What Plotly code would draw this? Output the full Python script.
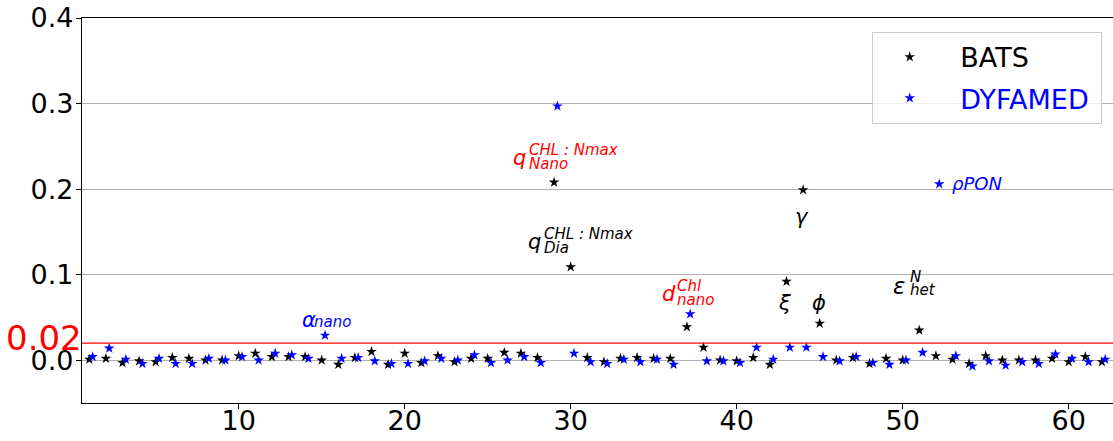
import plotly.graph_objects as go

# ---------------- data ----------------
param_index = list(range(1, 63))

bats_values = [
    0.001, 0.002, -0.003, -0.001, -0.002, 0.003, 0.002, 0.000, 0.000, 0.005,
    0.008, 0.004, 0.004, 0.004, 0.000, -0.005, 0.003, 0.010, -0.005, 0.008,
    -0.003, 0.005, -0.002, 0.002, 0.002, 0.009, 0.008, 0.003, 0.208, 0.109,
    0.003, -0.002, 0.002, 0.003, 0.002, 0.002, 0.039, 0.015, 0.000, -0.001,
    0.003, -0.005, 0.092, 0.199, 0.043, 0.000, 0.003, -0.004, 0.002, 0.000,
    0.035, 0.005, 0.001, -0.004, 0.005, 0.000, 0.000, 0.000, 0.002, -0.002,
    0.004, -0.002,
]

dyfamed_values = [
    0.004, 0.014, 0.001, -0.004, 0.002, -0.004, -0.004, 0.002, 0.000, 0.004,
    0.000, 0.008, 0.006, 0.002, 0.029, 0.002, 0.003, -0.001, -0.004, -0.004,
    -0.001, 0.002, 0.000, 0.006, -0.003, 0.000, 0.004, -0.003, 0.297, 0.008,
    -0.002, -0.004, 0.001, -0.002, 0.001, -0.005, 0.054, -0.001, -0.001, -0.003,
    0.015, 0.001, 0.015, 0.015, 0.004, -0.001, 0.004, -0.003, -0.005, 0.000,
    0.009, 0.206, 0.005, -0.007, -0.001, -0.006, -0.002, -0.004, 0.007, 0.002,
    -0.002, 0.001,
]

dyfamed_offset = 0.2
threshold = 0.02

x_ticks = [10, 20, 30, 40, 50, 60]
y_ticks = [0.0, 0.1, 0.2, 0.3, 0.4]
y_tick_labels = ["0.0", "0.1", "0.2", "0.3", "0.4"]

# (main symbol, superscript, subscript, x, y, colour, anchor, main size)
labels = [
    ("q", "CHL : Nmax", "Nano", 26.4, 0.236, "red", "left", 21),
    ("q", "CHL : Nmax", "Dia", 27.3, 0.138, "black", "left", 21),
    ("d", "Chl", "nano", 35.4, 0.077, "red", "left", 21),
    ("ξ", "", "", 42.9, 0.067, "black", "center", 21),
    ("ϕ", "", "", 44.93, 0.067, "black", "center", 21),
    ("γ", "", "", 43.93, 0.167, "black", "center", 21),
    ("ε", "N", "het", 49.3, 0.087, "black", "left", 23),
    ("ρPON", "", "", 52.85, 0.207, "blue", "left", 18),
    ("α", "", "nano", 13.7, 0.047, "blue", "left", 21),
]
# horizontal / vertical offsets (px) of the super- and subscripts
script_shift = {"q": (16, 8, -6), "d": (15, 8, -6), "ε": (17, 9, -4), "α": (12, 0, -2)}

FONT = "DejaVu Sans"

fig = go.Figure()
fig.add_trace(go.Scatter(
    x=param_index, y=bats_values, mode="markers", name="\u2002BATS", legendgroup="a",
    marker=dict(symbol="star", size=8, color="black", line=dict(width=0)),
))
fig.add_trace(go.Scatter(
    x=[i + dyfamed_offset for i in param_index], y=dyfamed_values, mode="markers",
    name="\u2002<span style='color:blue'>DYFAMED</span>\u2005", legendgroup="b",
    marker=dict(symbol="star", size=8, color="blue", line=dict(width=0)),
))

# threshold line
fig.add_shape(type="line", xref="paper", x0=0, x1=1, yref="y", y0=threshold, y1=threshold,
              line=dict(color="red", width=1.3), layer="above")

annotations = []
for main, sup, sub, xx, yy, col, anchor, msize in labels:
    annotations.append(dict(
        x=xx, y=yy, xref="x", yref="y", text="<i>%s</i>" % main, showarrow=False,
        xanchor=anchor, yanchor="middle", font=dict(family=FONT, size=msize, color=col),
    ))
    dx, dsup, dsub = script_shift.get(main, (0, 0, 0))
    if sup:
        annotations.append(dict(
            x=xx, y=yy, xref="x", yref="y", text="<i>%s</i>" % sup, showarrow=False,
            xanchor="left", yanchor="middle", xshift=dx, yshift=dsup,
            font=dict(family=FONT, size=15, color=col),
        ))
    if sub:
        annotations.append(dict(
            x=xx, y=yy, xref="x", yref="y", text="<i>%s</i>" % sub, showarrow=False,
            xanchor="left", yanchor="middle", xshift=dx, yshift=dsub,
            font=dict(family=FONT, size=15, color=col),
        ))

# red threshold tick label
annotations.append(dict(
    x=0, y=threshold, xref="paper", yref="y", text="0.02", showarrow=False,
    xanchor="right", yanchor="middle", xshift=2, yshift=5,
    font=dict(family=FONT, size=34, color="red"),
))

fig.update_layout(
    width=1113, height=441,
    margin=dict(l=82, r=0, t=18, b=38),
    paper_bgcolor="white", plot_bgcolor="white",
    font=dict(family=FONT, size=27, color="black"),
    showlegend=True,
    legend=dict(
        x=0.766, y=0.964, xanchor="left", yanchor="top",
        bgcolor="rgba(255,255,255,0.8)", bordercolor="#cccccc", borderwidth=1,
        font=dict(family=FONT, size=27, color="black"),
        itemwidth=64, traceorder="grouped", tracegroupgap=3,
    ),
    annotations=annotations,
)

fig.update_xaxes(
    range=[0.56, 62.67], tickvals=x_ticks, showgrid=False, zeroline=False,
    showline=True, linecolor="black", linewidth=1.3, mirror=True,
    ticks="outside", ticklen=5, tickcolor="black", automargin=False,
    ticklabelstandoff=-12,
    tickfont=dict(family=FONT, size=27, color="black"),
)
fig.update_yaxes(
    range=[-0.05, 0.4], tickvals=y_ticks, ticktext=y_tick_labels,
    showgrid=True, gridcolor="#b0b0b0", gridwidth=1, zeroline=False,
    showline=True, linecolor="black", linewidth=1.3, automargin=False,
    ticks="outside", ticklen=5, tickcolor="black", ticklabelstandoff=-3,
    tickfont=dict(family=FONT, size=27, color="black"),
)

fig.write_html("out.html", config={"displayModeBar": False},
               post_script="document.body.style.margin='0px';")
